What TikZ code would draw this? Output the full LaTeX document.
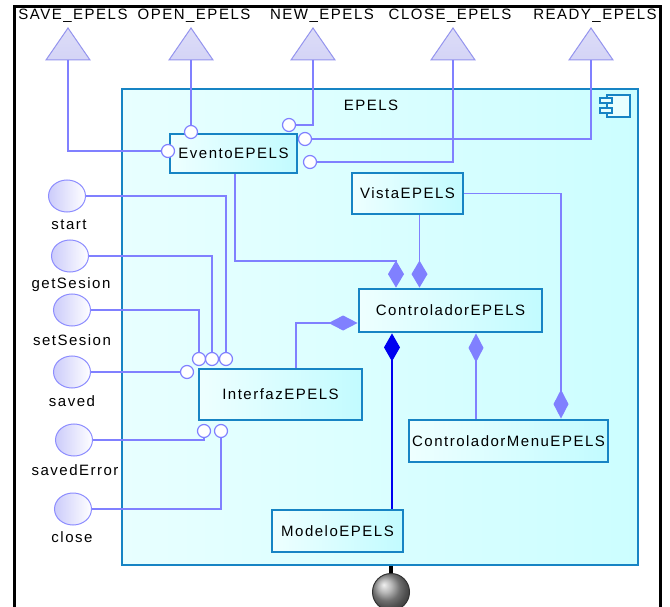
\documentclass[tikz,border=0pt]{standalone}
\usepackage{fontspec}
\setmainfont{Liberation Sans}[LetterSpace=10]
\usetikzlibrary{shapes.geometric,arrows.meta}
\definecolor{boxc}{HTML}{1784C4}
\definecolor{boxL}{HTML}{EEFFFF}
\definecolor{boxR}{HTML}{C2FBFF}
\definecolor{compL}{HTML}{E8FFFF}
\definecolor{compR}{HTML}{CCFEFF}
\definecolor{lnc}{HTML}{8080FF}
\definecolor{darkln}{HTML}{0000F0}
\definecolor{trifill}{HTML}{D4D4F6}
\definecolor{tribord}{HTML}{9494EE}
\tikzset{
  lbl/.style={font=\fontsize{15}{17}\selectfont, inner sep=0pt},
  cbox/.style={draw=boxc, line width=2.8pt, left color=boxL, right color=boxR, inner sep=0pt, font=\fontsize{15}{17}\selectfont},
  conn/.style={draw=lnc, line width=1.3pt},
  darkconn/.style={draw=darkln, line width=1.5pt},
  sock/.style={circle, draw=lnc, fill=white, line width=1.2pt, minimum size=13pt, inner sep=0pt},
  iface/.style={ellipse, draw=lnc!90, line width=1pt, left color=trifill!80!blue!60, right color=white, minimum width=37pt, minimum height=32pt, inner sep=0pt},
  tri/.style={draw=tribord, line width=1pt, top color=trifill!80!white, bottom color=trifill},
}
\begin{document}
\begin{tikzpicture}[x=1pt,y=-1pt]
\useasboundingbox (0,0) rectangle (670,607);
\clip (0,0) rectangle (670,607);
\fill[white] (0,0) rectangle (670,607);
% frame
\draw[black, line width=3pt] (14,640) -- (14,7) -- (660,7) -- (660,640);
% component container
\node[draw=boxc, line width=2.4pt, left color=compL, right color=compR, minimum width=516pt, minimum height=476pt, inner sep=0pt] (EPELS) at (380,327) {};
\node[lbl] (lblEPELS) at (371,105) {EPELS};
% component icon
\draw[boxc, line width=1.6pt, fill=compL] (607,95) rectangle (630,117);
\draw[boxc, line width=1.6pt, fill=compL] (600,98) rectangle (612,103);
\draw[boxc, line width=1.6pt, fill=compL] (600,108) rectangle (612,113);
% port
\draw[black, line width=4pt] (EPELS.south -| 391,0) -- (391,575);
\node[circle, draw=black!80, line width=1pt, ball color=gray!75, minimum size=37pt, inner sep=0pt] (port) at (391,592) {};
% triangles
\foreach \n/\x in {tSave/68, tOpen/191, tNew/313, tClose/453, tReady/591}{
  \draw[tri] (\x-22,60) -- (\x,28) -- (\x+22,60) -- cycle;
  \coordinate (\n) at (\x,60);
}
\node[lbl] (lSave) at (73,16) {SAVE\_EPELS};
\node[lbl] (lOpen) at (194,16) {OPEN\_EPELS};
\node[lbl] (lNew) at (322,16) {NEW\_EPELS};
\node[lbl] (lClose) at (450,16) {CLOSE\_EPELS};
\node[lbl] (lReady) at (595,16) {READY\_EPELS};
% boxes
\node[cbox, minimum width=127pt, minimum height=39pt] (Evento) at (233.5,153.5) {EventoEPELS};
\node[cbox, minimum width=111pt, minimum height=41pt] (Vista) at (407.5,193.5) {VistaEPELS};
\node[cbox, minimum width=183pt, minimum height=43pt] (Controlador) at (450.5,310.5) {ControladorEPELS};
\node[cbox, minimum width=163pt, minimum height=51pt] (Interfaz) at (280.5,394.5) {InterfazEPELS};
\node[cbox, minimum width=199pt, minimum height=42pt] (Menu) at (508.5,441) {ControladorMenuEPELS};
\node[cbox, minimum width=131pt, minimum height=42pt] (Modelo) at (337.5,531) {ModeloEPELS};
% interfaces on the left
\node[iface] (start) at (67,196) {};
\node[iface] (getSesion) at (70,256) {};
\node[iface] (setSesion) at (72,310) {};
\node[iface] (saved) at (72,372) {};
\node[iface] (savedError) at (74,440) {};
\node[iface] (close) at (73,509) {};
\node[lbl] (lstart) at (69,225) {start};
\node[lbl] (lget) at (71,285) {getSesion};
\node[lbl] (lset) at (72,340) {setSesion};
\node[lbl] (lsaved) at (72,401) {saved};
\node[lbl] (lsavedErr) at (75,470) {savedError};
\node[lbl] (lclose) at (72,537) {close};
% sockets
\node[sock] (s1) at (199,359) {};
\node[sock] (s2) at (212,359) {};
\node[sock] (s3) at (226,359) {};
\node[sock] (s0) at (187,372) {};
\node[sock] (s4) at (204,431) {};
\node[sock] (s5) at (221,431) {};
\node[sock] (e1) at (191,132) {};
\node[sock] (e2) at (168,151) {};
\node[sock] (e3) at (289,125) {};
\node[sock] (e4) at (305,139) {};
\node[sock] (e5) at (310,162) {};
% connectors to sockets
\draw[conn] (start.east) -| (s3.north);
\draw[conn] (getSesion.east) -| (s2.north);
\draw[conn] (setSesion.east) -| (s1.north);
\draw[conn] (saved.east) -- (s0.west);
\draw[conn] (savedError.east) -| (s4.south);
\draw[conn] (close.east) -| (s5.south);
\draw[conn] (tOpen) -- (e1.north);
\draw[conn] (tSave) |- (e2.west);
\draw[conn] (tNew) |- (e3.east);
\draw[conn] (e4.east) -| (tReady);
\draw[conn] (e5.east) -| (tClose);
% associations
\coordinate (c1) at (396,261);
\coordinate (c2) at (561,194);
\draw[conn, -{Diamond[length=27pt,width=16pt,color=lnc]}] ([xshift=1.5pt]Evento.south) |- (c1) -- (c1 |- Controlador.north);
\draw[conn, -{Diamond[length=27pt,width=16pt,color=lnc]}] ([xshift=12pt]Vista.south) -- ([xshift=12pt]Vista.south |- Controlador.north);
\draw[conn, -{Diamond[length=29pt,width=15pt,color=lnc]}] (Vista.east) -| (c2 |- Menu.north);
\draw[conn, -{Diamond[length=29pt,width=15pt,color=lnc]}] ([xshift=15.5pt]Interfaz.north) |- ([yshift=-12.5pt]Controlador.west);
\draw[darkconn, {Diamond[length=28pt,width=16pt,color=darkln]}-] ([xshift=-58.5pt]Controlador.south) -- ([xshift=-58.5pt]Controlador.south |- Modelo.north);
\draw[conn, {Diamond[length=29pt,width=15pt,color=lnc]}-] ([xshift=25.5pt]Controlador.south) -- ([xshift=25.5pt]Controlador.south |- Menu.north);
\end{tikzpicture}
\end{document}
